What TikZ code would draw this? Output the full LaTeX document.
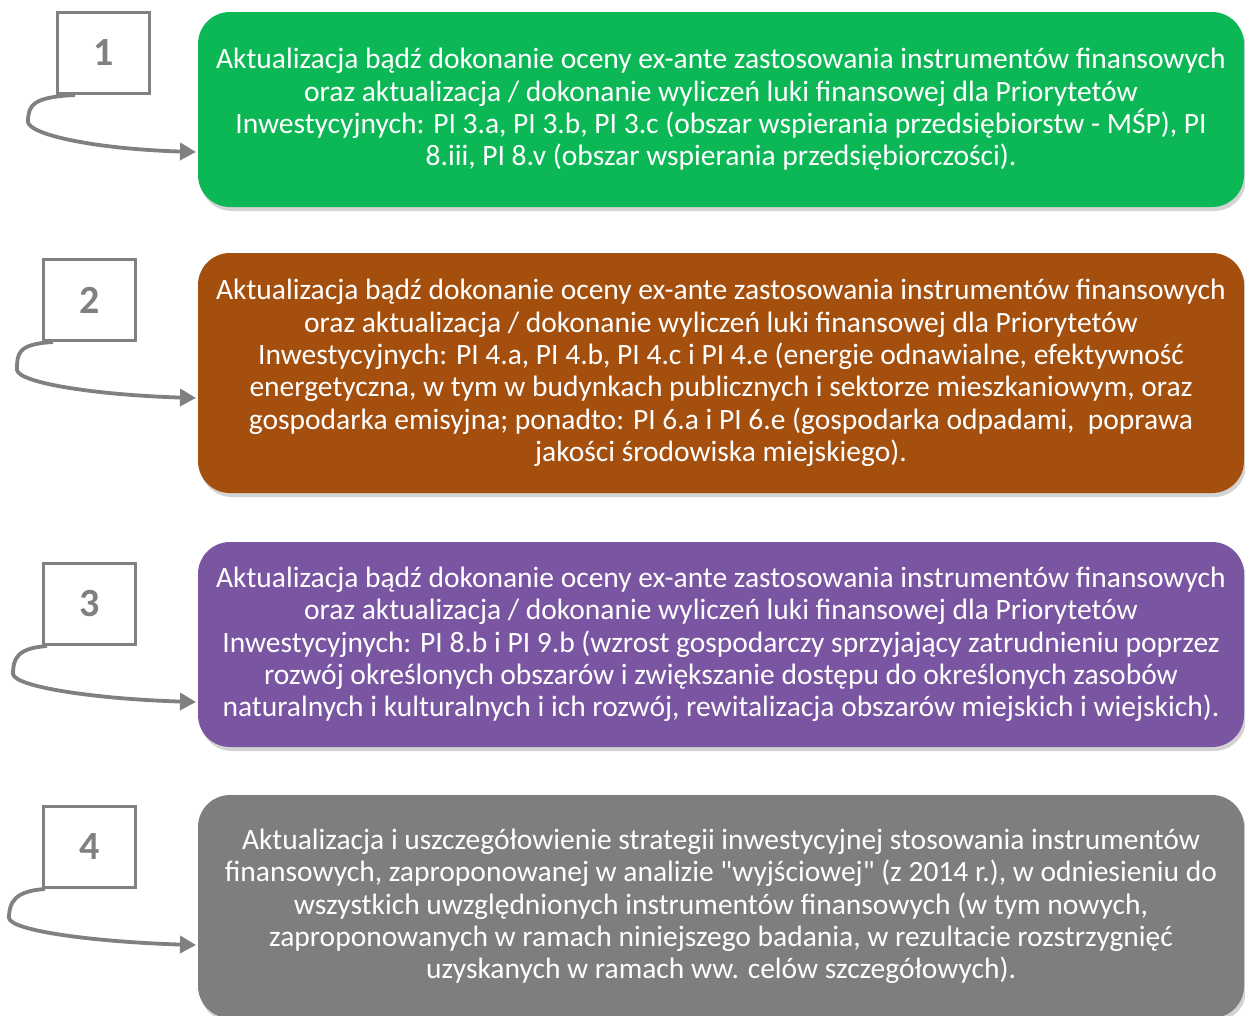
\documentclass[tikz,border=0pt]{standalone}
\usepackage{fontspec}
\newfontfamily\cf{Carlito}
\usetikzlibrary{shadows,arrows.meta}
\definecolor{gB}{RGB}{12,184,86}
\definecolor{oB}{RGB}{164,79,13}
\definecolor{pB}{RGB}{122,85,162}
\definecolor{kB}{RGB}{126,126,126}
\definecolor{numgray}{RGB}{128,128,128}
\tikzset{
  bigbox/.style={rounded corners=32pt, minimum width=1046pt, text=white,
    align=center, font=\cf\fontsize{29.5}{32.3}\selectfont, inner sep=0pt,
    drop shadow={opacity=0.35, shadow xshift=2pt, shadow yshift=-4pt}},
  numbox/.style={draw=numgray, line width=3pt, minimum width=92pt, minimum height=81pt,
    inner sep=0pt, text=numgray, font=\cf\fontsize{40}{40}\selectfont\bfseries},
  arr/.style={draw=numgray, line width=3.8pt, -{Triangle[length=16pt,width=17pt]}}
}
\begin{document}
\begin{tikzpicture}[x=1pt,y=-1pt]
\useasboundingbox (0,0) rectangle (1245,1015);
% boxes
\node[bigbox, minimum height=195pt, fill=gB] (b1) at (721,109.5)
 {Aktualizacja bądź dokonanie oceny ex-ante zastosowania instrumentów finansowych\\
  oraz aktualizacja / dokonanie wyliczeń luki finansowej dla Priorytetów\\
  Inwestycyjnych: PI 3.a, PI 3.b, PI 3.c (obszar wspierania przedsiębiorstw - MŚP), PI\\
  8.iii, PI 8.v (obszar wspierania przedsiębiorczości).};
\node[bigbox, minimum height=240pt, fill=oB] (b2) at (721,373)
 {Aktualizacja bądź dokonanie oceny ex-ante zastosowania instrumentów finansowych\\
  oraz aktualizacja / dokonanie wyliczeń luki finansowej dla Priorytetów\\
  Inwestycyjnych: PI 4.a, PI 4.b, PI 4.c i PI 4.e (energie odnawialne, efektywność\\
  energetyczna, w tym w budynkach publicznych i sektorze mieszkaniowym, oraz\\
  gospodarka emisyjna; ponadto: PI 6.a i PI 6.e (gospodarka odpadami,\ \ poprawa\\
  jakości środowiska miejskiego).};
\node[bigbox, minimum height=205pt, fill=pB] (b3) at (721,644.5)
 {Aktualizacja bądź dokonanie oceny ex-ante zastosowania instrumentów finansowych\\
  oraz aktualizacja / dokonanie wyliczeń luki finansowej dla Priorytetów\\
  Inwestycyjnych: PI 8.b i PI 9.b (wzrost gospodarczy sprzyjający zatrudnieniu poprzez\\
  rozwój określonych obszarów i zwiększanie dostępu do określonych zasobów\\
  naturalnych i kulturalnych i ich rozwój, rewitalizacja obszarów miejskich i wiejskich).};
\node[bigbox, minimum height=223pt, fill=kB] (b4) at (721,906.5)
 {Aktualizacja i uszczegółowienie strategii inwestycyjnej stosowania instrumentów\\
  finansowych, zaproponowanej w analizie "wyjściowej" (z 2014 r.), w odniesieniu do\\
  wszystkich uwzględnionych instrumentów finansowych (w tym nowych,\\
  zaproponowanych w ramach niniejszego badania, w rezultacie rozstrzygnięć\\
  uzyskanych w ramach ww. celów szczegółowych).};
% number boxes
\node[numbox] (n1) at (103.5,53) {1};
\node[numbox] (n2) at (89.5,300) {2};
\node[numbox] (n3) at (89.5,604) {3};
\node[numbox] (n4) at (89.5,847) {4};
% bend points and tips
\coordinate (l1) at (28,122);
\coordinate (l2) at (17,370);
\coordinate (l3) at (13,674);
\coordinate (l4) at (9,918);
\coordinate (t1) at (196,152);
\coordinate (t2) at (196,398);
\coordinate (t3) at (196,702);
\coordinate (t4) at (196,945);
% arrows
\draw[arr] ([xshift=19pt]n1.south west) .. controls +(-42,2) and +(0,-17) .. (l1)
  .. controls +(2,13) and +(-100,-3) .. (t1);
\draw[arr] ([xshift=11pt]n2.south west) .. controls +(-36,2) and +(0,-16) .. (l2)
  .. controls +(2,13) and +(-100,-3) .. (t2);
\draw[arr] ([xshift=5pt]n3.south west) .. controls +(-30,2) and +(0,-15) .. (l3)
  .. controls +(2,13) and +(-100,-3) .. (t3);
\draw[arr] ([xshift=3pt]n4.south west) .. controls +(-30,2) and +(0,-16) .. (l4)
  .. controls +(2,13) and +(-100,-3) .. (t4);
\end{tikzpicture}
\end{document}
